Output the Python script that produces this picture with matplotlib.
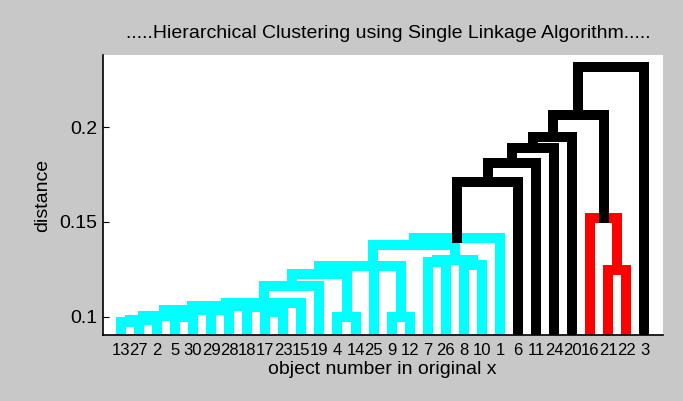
import matplotlib.pyplot as plt

# leaf order as drawn left to right
leaf_labels = ['13', '27', '2', '5', '30', '29', '28', '18', '17', '23',
               '15', '19', '4', '14', '25', '9', '12', '7', '26', '8',
               '10', '1', '6', '11', '24', '20', '16', '21', '22', '3']
# distance at which each pair of neighbouring leaves gets joined
join_dist = [0.0974, 0.0983, 0.1001, 0.0999, 0.1036, 0.1033, 0.1054, 0.1052, 0.1026, 0.1071,
             0.1164, 0.1225, 0.0996, 0.1265, 0.1270, 0.0998, 0.1379, 0.1290, 0.1300, 0.1273,
             0.1415, 0.1713, 0.1810, 0.1893, 0.1950, 0.2065, 0.1523, 0.1247, 0.2320]
cluster_colors = ['#00ffff', '#ff0000']

threshold = 0.7 * max(join_dist)  # matlab default colour cut


def build(lo, hi):  # tree from neighbour join heights, biggest gap is the top link
    if lo == hi:
        return {'x': lo + 1, 'h': 0.0, 'leaf': True}
    k = max(range(lo, hi), key=lambda i: join_dist[i])
    left = build(lo, k)
    right = build(k + 1, hi)
    return {'x': (left['x'] + right['x']) / 2, 'h': join_dist[k],
            'left': left, 'right': right, 'leaf': False}


def draw(ax, node, color, counter):
    if node['leaf']:
        return
    h = node['h']
    if h >= threshold:
        c = 'black'
        color = None
    else:
        if color is None:
            color = cluster_colors[counter[0] % len(cluster_colors)]
            counter[0] += 1
        c = color
    draw(ax, node['left'], color, counter)
    draw(ax, node['right'], color, counter)
    l, r = node['left'], node['right']
    ax.plot([l['x'], l['x'], r['x'], r['x']], [l['h'], h, h, r['h']],
            color=c, lw=7.2, solid_joinstyle='miter', solid_capstyle='projecting')


plt.rcParams['font.family'] = ['Liberation Sans Narrow', 'Liberation Sans', 'DejaVu Sans']

fig = plt.figure(figsize=(6.83, 4.01), dpi=100)
fig.patch.set_facecolor('#c8c8c8')
ax = fig.add_axes([0.1504, 0.1646, 0.8196, 0.6982])
ax.set_facecolor('white')

root = build(0, len(leaf_labels) - 1)
draw(ax, root, None, [0])

ax.set_xlim(0, 31)
ax.set_ylim(0.0903, 0.2382)
ax.set_xticks(range(1, len(leaf_labels) + 1))
ax.set_xticklabels(leaf_labels, fontsize=12)
ax.set_yticks([0.1, 0.15, 0.2])
ax.set_yticklabels(['0.1', '0.15', '0.2'], fontsize=14)
ax.tick_params(axis='x', length=0, pad=6)
ax.tick_params(axis='y', direction='in', length=4, pad=4)
for s in ['top', 'right']:
    ax.spines[s].set_visible(False)
for s in ['left', 'bottom']:
    ax.spines[s].set_linewidth(1.2)

ax.set_xlabel('object number in original x', fontsize=14, labelpad=2)
ax.set_ylabel('distance', fontsize=14, labelpad=6)
fig.text(388 / 683, 1 - 33 / 401, '.....Hierarchical Clustering using Single Linkage Algorithm.....',
         ha='center', va='center', fontsize=14)

fig.savefig('out.png', dpi=100, facecolor=fig.get_facecolor())
